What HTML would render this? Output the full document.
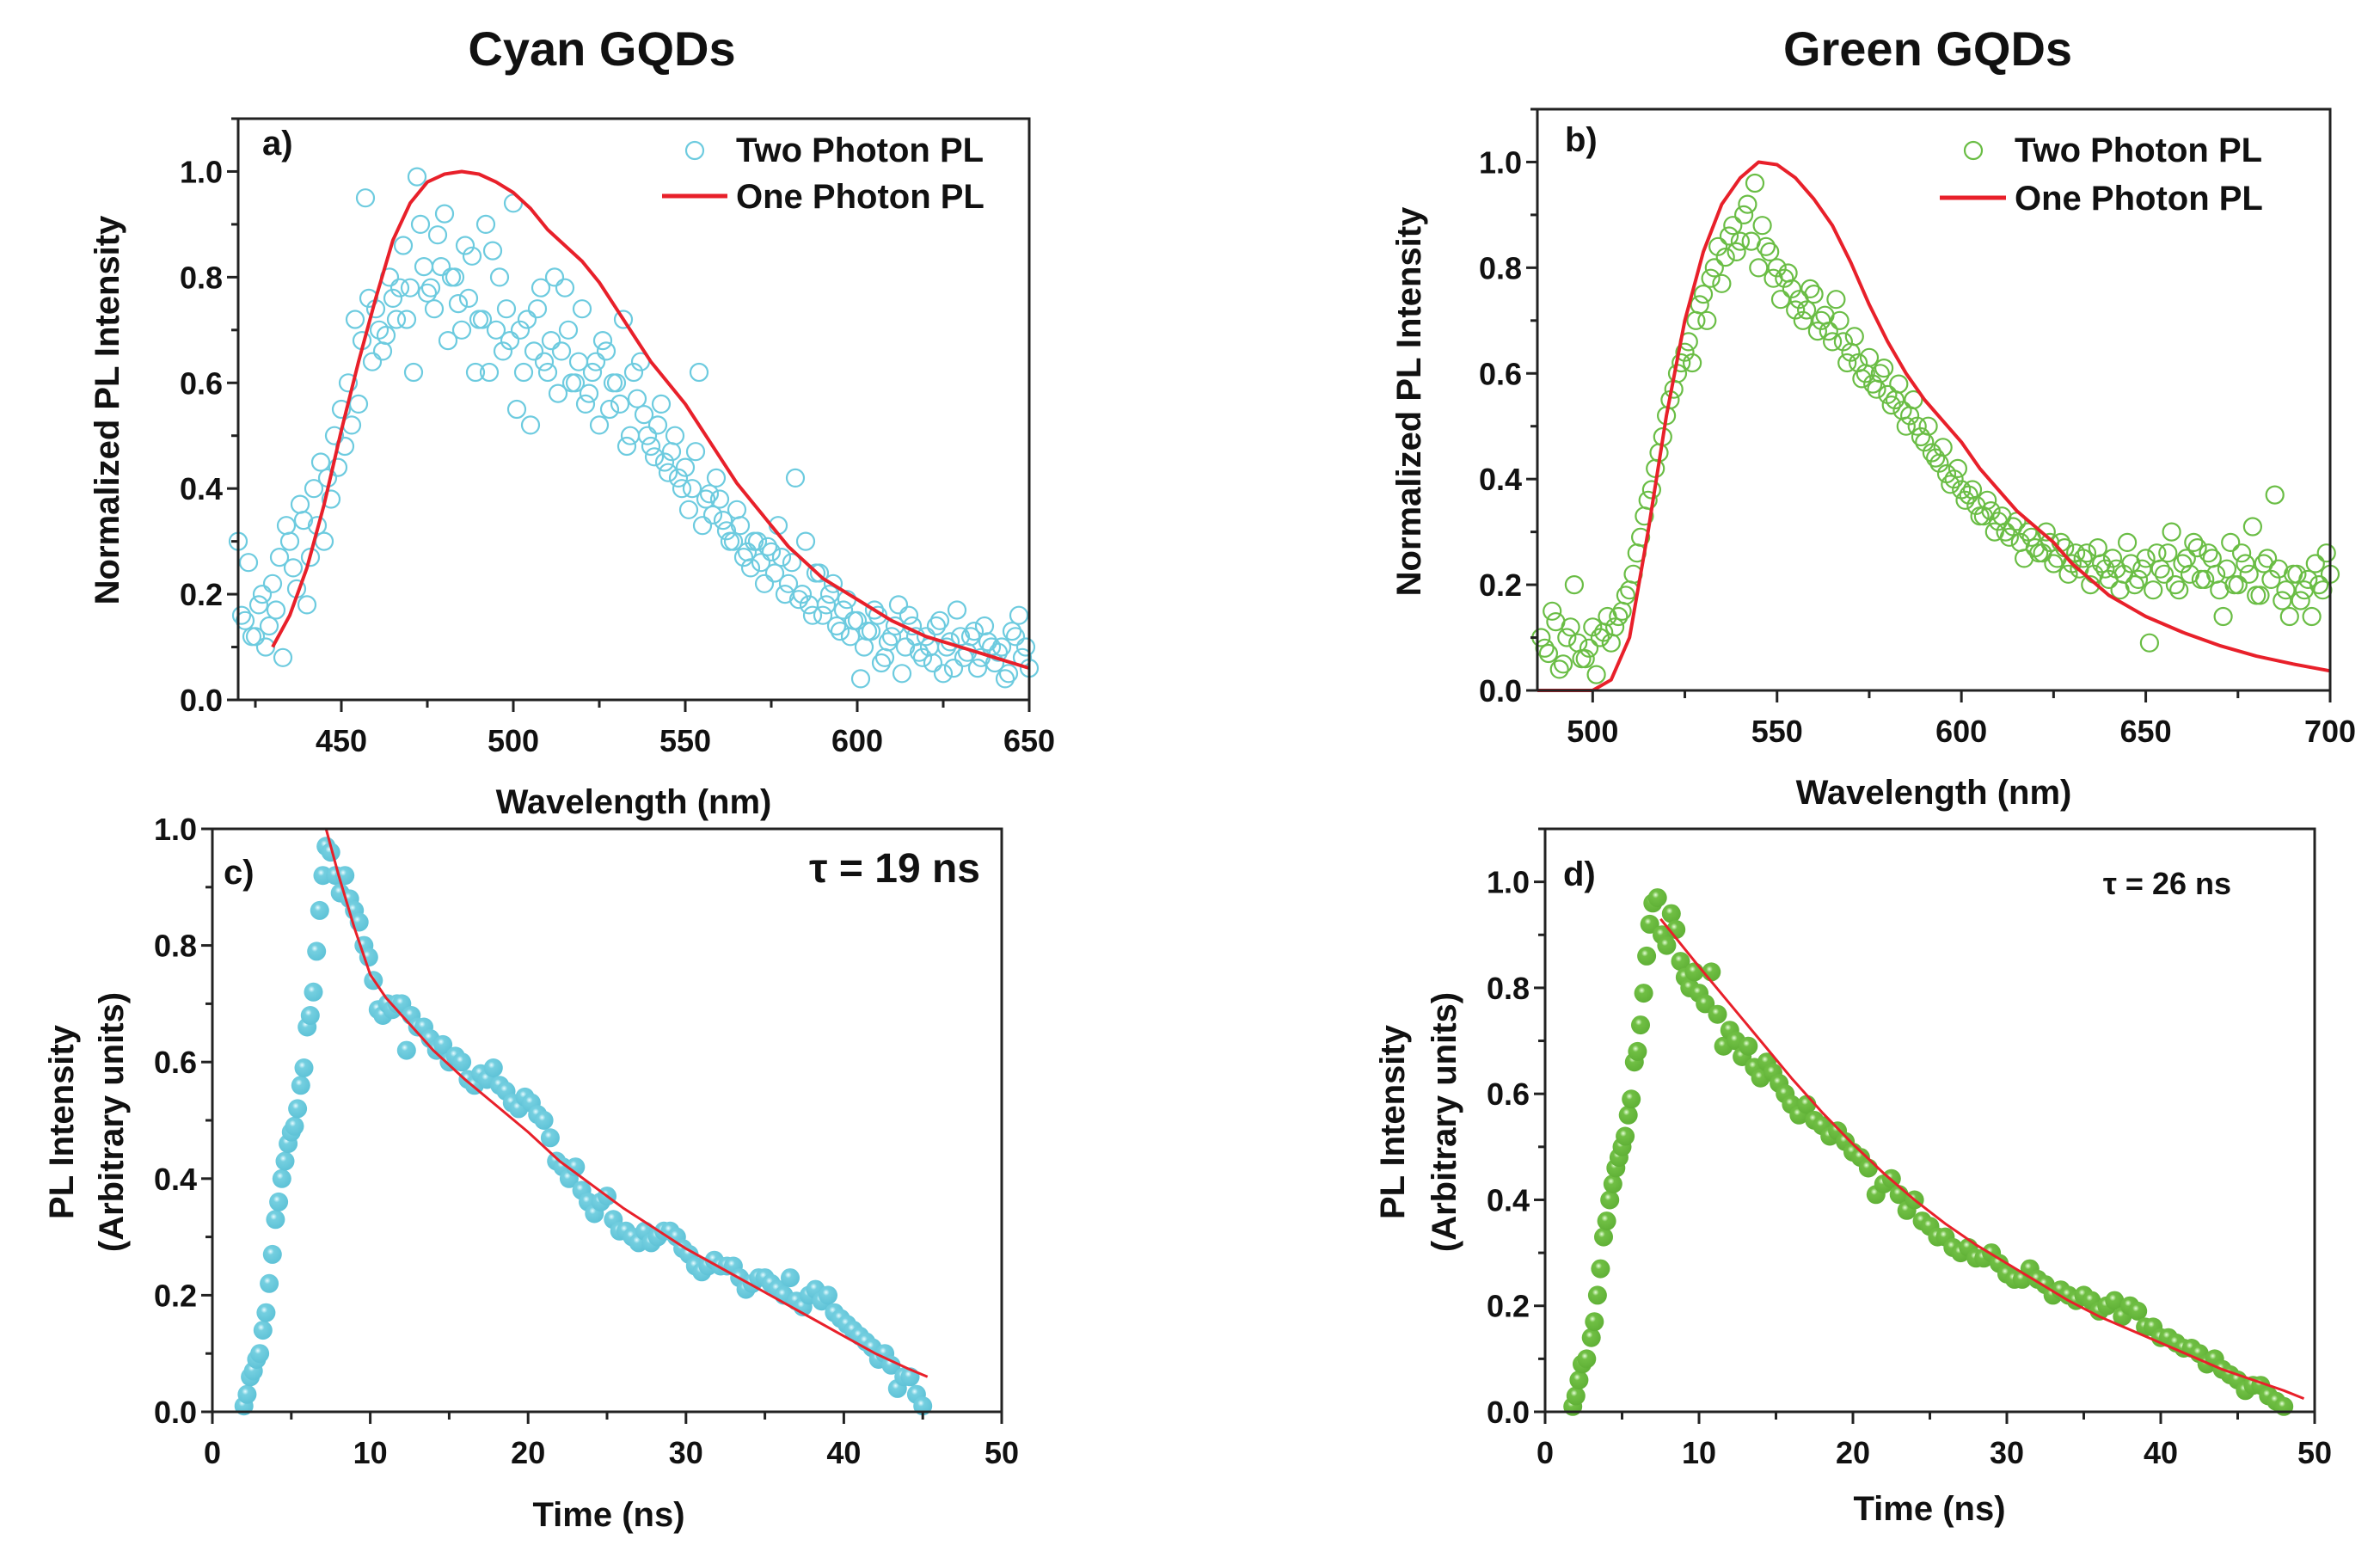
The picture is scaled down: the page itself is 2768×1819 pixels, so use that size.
<!DOCTYPE html>
<html><head><meta charset="utf-8">
<style>
html,body{margin:0;padding:0;background:#fff;}
svg{display:block;}
text{font-family:"Liberation Sans Narrow","Liberation Sans",sans-serif;font-weight:bold;fill:#111;}
.title{font-family:"Liberation Sans",sans-serif;font-size:56px;}
.tick{font-size:36px;}
.axt{font-size:40px;}
.leg{font-size:40px;}
</style></head>
<body>
<svg id="fig" width="2768" height="1819" viewBox="0 0 2768 1819" xmlns="http://www.w3.org/2000/svg">
<text class="title" x="700" y="76" text-anchor="middle">Cyan GQDs</text>
<text class="title" x="2242" y="76" text-anchor="middle">Green GQDs</text>
</svg>
<script>
// ---------- panel a data (cyan spectra) ----------
const aCurveX = [430,435,440,445,450,455,460,465,470,475,480,485,490,495,500,505,510,515,520,525,530,535,540,545,550,555,560,565,570,575,580,585,590,595,600,610,620,630,640,650];
const aCurveY = [0.10,0.16,0.25,0.37,0.51,0.64,0.76,0.87,0.94,0.98,0.995,1.0,0.995,0.98,0.96,0.93,0.89,0.86,0.83,0.79,0.74,0.69,0.64,0.60,0.56,0.51,0.46,0.41,0.37,0.33,0.29,0.26,0.23,0.21,0.19,0.15,0.12,0.10,0.08,0.06];
// band 1: wavelengths 420..650 every 2 nm
const aBand1Start = 420;
const aBand1Y = [
0.30,0.15,0.12,0.18,0.10,0.22,0.27,0.33,0.25,0.37,
0.18,0.40,0.45,0.42,0.50,0.55,0.60,0.72,0.68,0.76,
0.74,0.66,0.80,0.72,0.86,0.78,0.99,0.82,0.78,0.88,
0.92,0.80,0.75,0.86,0.84,0.72,0.90,0.85,0.80,0.74,
0.94,0.70,0.72,0.66,0.78,0.62,0.80,0.66,0.70,0.60,
0.74,0.58,0.64,0.68,0.55,0.60,0.72,0.50,0.57,0.54,
0.48,0.52,0.45,0.47,0.42,0.44,0.40,0.62,0.38,0.35,
0.38,0.32,0.30,0.33,0.28,0.30,0.26,0.29,0.24,0.27,
0.22,0.42,0.20,0.18,0.24,0.16,0.20,0.14,0.17,0.12,
0.15,0.10,0.13,0.16,0.08,0.12,0.18,0.10,0.14,0.09,
0.12,0.07,0.15,0.10,0.06,0.12,0.09,0.13,0.08,0.11,
0.07,0.10,0.05,0.12,0.08,0.06];
// band 2: wavelengths 421..649 every 2 nm
const aBand2Start = 421;
const aBand2Y = [
0.16,0.26,0.12,0.20,0.14,0.17,0.08,0.30,0.21,0.34,
0.27,0.33,0.30,0.38,0.44,0.48,0.52,0.56,0.95,0.64,
0.70,0.69,0.76,0.78,0.72,0.62,0.90,0.77,0.74,0.82,
0.68,0.80,0.70,0.76,0.62,0.72,0.62,0.70,0.66,0.68,
0.55,0.62,0.52,0.74,0.64,0.68,0.58,0.78,0.60,0.64,
0.56,0.62,0.52,0.66,0.60,0.56,0.48,0.62,0.64,0.50,
0.46,0.56,0.43,0.50,0.40,0.36,0.47,0.33,0.39,0.42,
0.34,0.30,0.36,0.27,0.25,0.30,0.22,0.28,0.33,0.20,
0.26,0.19,0.30,0.16,0.24,0.18,0.22,0.13,0.19,0.15,
0.04,0.13,0.17,0.07,0.11,0.14,0.05,0.16,0.12,0.08,
0.10,0.14,0.05,0.11,0.17,0.08,0.12,0.06,0.14,0.10,
0.09,0.04,0.13,0.16,0.10];
// ---------- panel b data (green spectra) ----------
const bCurveX = [485,490,495,500,505,510,515,520,525,530,535,540,545,550,555,560,565,570,575,580,585,590,595,600,605,610,615,620,625,630,635,640,645,650,660,670,680,690,700];
const bCurveY = [0,0,0,0,0.02,0.10,0.30,0.52,0.70,0.83,0.92,0.97,1.0,0.995,0.97,0.93,0.88,0.81,0.73,0.66,0.60,0.55,0.51,0.47,0.42,0.38,0.34,0.31,0.28,0.24,0.21,0.18,0.16,0.14,0.11,0.085,0.065,0.05,0.037];
// band 1: wavelengths 486..700 every 2 nm
const bBand1Start = 486;
const bBand1Y = [
0.10,0.07,0.13,0.05,0.12,0.09,0.06,0.12,0.10,0.14,
0.12,0.15,0.19,0.26,0.33,0.38,0.45,0.52,0.57,0.62,
0.66,0.70,0.75,0.78,0.84,0.82,0.88,0.85,0.92,0.96,
0.88,0.83,0.80,0.78,0.76,0.74,0.72,0.75,0.70,0.68,
0.74,0.66,0.64,0.62,0.60,0.58,0.60,0.56,0.55,0.53,
0.52,0.50,0.47,0.45,0.43,0.41,0.40,0.38,0.37,0.35,
0.33,0.34,0.32,0.30,0.31,0.28,0.30,0.27,0.26,0.28,
0.25,0.27,0.24,0.23,0.26,0.22,0.24,0.21,0.23,0.22,
0.24,0.21,0.25,0.19,0.23,0.26,0.20,0.24,0.22,0.27,
0.21,0.25,0.19,0.23,0.20,0.26,0.22,0.18,0.24,0.21,
0.23,0.19,0.22,0.17,0.21,0.24,0.19,0.22];
// band 2: wavelengths 487..699 every 2 nm
const bBand2Start = 487;
const bBand2Y = [
0.08,0.15,0.04,0.10,0.20,0.06,0.08,0.03,0.11,0.09,
0.14,0.18,0.22,0.29,0.36,0.42,0.48,0.55,0.60,0.64,
0.62,0.73,0.70,0.80,0.77,0.86,0.83,0.90,0.85,0.80,
0.84,0.78,0.74,0.79,0.72,0.70,0.76,0.68,0.71,0.66,
0.70,0.62,0.67,0.59,0.63,0.57,0.61,0.54,0.58,0.50,
0.55,0.48,0.50,0.44,0.46,0.39,0.42,0.36,0.38,0.33,
0.36,0.30,0.33,0.29,0.32,0.25,0.29,0.26,0.30,0.24,
0.28,0.22,0.26,0.25,0.20,0.27,0.23,0.25,0.19,0.28,
0.20,0.23,0.09,0.26,0.22,0.30,0.19,0.25,0.28,0.21,
0.26,0.22,0.14,0.28,0.20,0.24,0.31,0.18,0.25,0.37,
0.17,0.14,0.22,0.19,0.14,0.20,0.26];
// ---------- panel c data (cyan decay) ----------
const cCurveX = [7.2,8,9,10,11,12,13,14,16,18,20,22,24,26,28,30,32,34,36,38,40,42,44,45.3];
const cCurveY = [1.0,0.92,0.83,0.75,0.71,0.68,0.65,0.62,0.57,0.525,0.48,0.43,0.39,0.35,0.315,0.28,0.25,0.22,0.19,0.16,0.13,0.10,0.075,0.06];
const cPtsX = [2,2.2,2.4,2.6,2.8,3.0,3.2,3.4,3.6,3.8,4.0,4.2,4.4,4.6,4.8,5.0,5.2,5.4,5.6,5.8,6.0,6.2,6.4,6.6,6.8,7.0,7.2,7.5,7.8,8.1,8.4,8.7,9.0,9.3,9.6,9.9,10.2,10.5,10.8,11.1,11.4,11.7,12.0,12.3,12.6,13.0,13.4,13.8,14.2,14.6,15.0,15.4,15.8,16.2,16.6,17.0,17.4,17.8,18.2,18.6,19.0,19.4,19.8,20.2,20.6,21.0,21.4,21.8,22.2,22.6,23.0,23.4,23.8,24.2,24.6,25.0,25.4,25.8,26.2,26.6,27.0,27.4,27.8,28.2,28.6,29.0,29.4,29.8,30.2,30.6,31.0,31.4,31.8,32.2,32.6,33.0,33.4,33.8,34.2,34.6,35.0,35.4,35.8,36.2,36.6,37.0,37.4,37.8,38.2,38.6,39.0,39.4,39.8,40.2,40.6,41.0,41.4,41.8,42.2,42.6,43.0,43.4,43.8,44.2,44.6,45.0];
const cPtsY = [0.01,0.03,0.06,0.07,0.09,0.10,0.14,0.17,0.22,0.27,0.33,0.36,0.40,0.43,0.46,0.48,0.49,0.52,0.56,0.59,0.66,0.68,0.72,0.79,0.86,0.92,0.97,0.96,0.92,0.89,0.92,0.88,0.86,0.84,0.80,0.78,0.74,0.69,0.68,0.70,0.69,0.70,0.70,0.62,0.68,0.66,0.66,0.64,0.62,0.63,0.60,0.61,0.60,0.57,0.56,0.58,0.57,0.59,0.56,0.55,0.53,0.52,0.54,0.53,0.51,0.50,0.47,0.43,0.42,0.40,0.42,0.38,0.36,0.34,0.36,0.37,0.33,0.31,0.31,0.30,0.29,0.31,0.29,0.30,0.31,0.31,0.30,0.28,0.27,0.25,0.24,0.25,0.26,0.25,0.25,0.25,0.23,0.21,0.22,0.23,0.23,0.22,0.21,0.20,0.23,0.19,0.18,0.20,0.21,0.19,0.20,0.17,0.16,0.15,0.14,0.13,0.12,0.11,0.09,0.10,0.08,0.04,0.06,0.06,0.03,0.01];
// ---------- panel d data (green decay) ----------
const dCurveX = [7.5,10,12,14,16,18,20,22,24,26,28,30,32,34,36,38,40,42,44,46,48,49.3];
const dCurveY = [0.93,0.84,0.77,0.70,0.63,0.565,0.505,0.45,0.40,0.355,0.315,0.28,0.245,0.21,0.18,0.155,0.13,0.105,0.08,0.06,0.04,0.025];
const dPtsX = [1.8,2.0,2.2,2.4,2.7,3.0,3.2,3.4,3.6,3.8,4.0,4.2,4.4,4.6,4.8,5.0,5.2,5.4,5.6,5.8,6.0,6.2,6.4,6.6,6.8,7.0,7.3,7.6,7.9,8.2,8.5,8.8,9.1,9.4,9.7,10.0,10.4,10.8,11.2,11.6,12.0,12.4,12.8,13.2,13.6,14.0,14.4,14.8,15.2,15.6,16.0,16.5,17.0,17.5,18.0,18.5,19.0,19.5,20.0,20.5,21.0,21.5,22.0,22.5,23.0,23.5,24.0,24.5,25.0,25.5,26.0,26.5,27.0,27.5,28.0,28.5,29.0,29.5,30.0,30.5,31.0,31.5,32.0,32.5,33.0,33.5,34.0,34.5,35.0,35.5,36.0,36.5,37.0,37.5,38.0,38.5,39.0,39.5,40.0,40.5,41.0,41.5,42.0,42.5,43.0,43.5,44.0,44.5,45.0,45.5,46.0,46.5,47.0,47.5,48.0];
const dPtsY = [0.01,0.03,0.06,0.09,0.10,0.14,0.17,0.22,0.27,0.33,0.36,0.40,0.43,0.46,0.48,0.50,0.52,0.56,0.59,0.66,0.68,0.73,0.79,0.86,0.92,0.96,0.97,0.90,0.88,0.94,0.91,0.85,0.82,0.80,0.83,0.79,0.77,0.83,0.75,0.69,0.72,0.70,0.67,0.69,0.65,0.63,0.66,0.64,0.62,0.60,0.58,0.56,0.58,0.55,0.54,0.52,0.53,0.51,0.49,0.48,0.46,0.41,0.43,0.44,0.41,0.38,0.40,0.36,0.35,0.33,0.33,0.31,0.30,0.31,0.29,0.29,0.30,0.28,0.26,0.25,0.25,0.27,0.25,0.24,0.22,0.23,0.22,0.21,0.22,0.21,0.19,0.20,0.21,0.18,0.20,0.19,0.16,0.16,0.14,0.14,0.13,0.12,0.12,0.11,0.09,0.10,0.08,0.07,0.06,0.04,0.05,0.05,0.03,0.02,0.01];

function gridX(start,n){const a=[];for(let i=0;i<n;i++)a.push(start+2*i);return a;}
const aPtsX = gridX(aBand1Start,aBand1Y.length).concat(gridX(aBand2Start,aBand2Y.length));
const aPtsY = aBand1Y.concat(aBand2Y);
const bPtsX = gridX(bBand1Start,bBand1Y.length).concat(gridX(bBand2Start,bBand2Y.length));
const bPtsY = bBand1Y.concat(bBand2Y);

const NS='http://www.w3.org/2000/svg';
const svg=document.getElementById('fig');
const defs=document.createElementNS(NS,'defs');
defs.innerHTML='<radialGradient id="gc" cx="0.4" cy="0.35" r="0.7"><stop offset="0" stop-color="#e8fbff"/><stop offset="0.25" stop-color="#74cfe0"/><stop offset="1" stop-color="#5cc1d6"/></radialGradient><radialGradient id="gg" cx="0.4" cy="0.35" r="0.7"><stop offset="0" stop-color="#e6ffd8"/><stop offset="0.25" stop-color="#70bf44"/><stop offset="1" stop-color="#5eaf35"/></radialGradient>';
svg.appendChild(defs);

function mk(tag,attrs,parent){const e=document.createElementNS(NS,tag);for(const k in attrs)e.setAttribute(k,attrs[k]);(parent||svg).appendChild(e);return e;}

function panel(p){
  const g=mk('g',{});
  
  
  const sx=v=>p.L+(v-p.x0)/(p.x1-p.x0)*(p.R-p.L);
  const sy=v=>p.B-(v-p.y0)/(p.y1-p.y0)*(p.B-p.T);
  const sg=mk('g',{},g);
  
  
  const n=Math.min(p.px.length,p.py.length);
  for(let i=0;i<n;i++){
    if(p.px[i]<p.x0||p.px[i]>p.x1)continue;
    const c=mk('circle',{cx:sx(p.px[i]).toFixed(1),cy:sy(p.py[i]).toFixed(1),r:p.r},sg);
    if(p.filled){c.setAttribute('fill',p.grad);}else{c.setAttribute('fill','none');c.setAttribute('stroke',p.color);c.setAttribute('stroke-width','2.2');}
    
    
  }
  let d='';for(let i=0;i<p.cx.length;i++)d+=(i?'L':'M')+sx(p.cx[i]).toFixed(1)+' '+sy(p.cy[i]).toFixed(1);
  const ln=mk('path',{d:d,fill:'none',stroke:'#e8202a','stroke-width':p.lw,'stroke-linejoin':'round'},g);
  
  
  const fr=mk('rect',{x:p.L,y:p.T,width:p.R-p.L,height:p.B-p.T,fill:'none',stroke:'#222','stroke-width':3},g);
  
  
  for(let v=p.x0m;v<=p.x1+1e-9;v+=p.xminor){
    const major=Math.abs((v-p.xmaj0)/p.xmajor-Math.round((v-p.xmaj0)/p.xmajor))<1e-6;
    mk('line',{x1:sx(v),x2:sx(v),y1:p.B,y2:p.B+(major?14:9),stroke:'#222','stroke-width':3},g);
    if(major){const t=mk('text',{x:sx(v),y:p.B+60,'text-anchor':'middle',class:'tick'},g);t.textContent=v;
      
      }
  }
  for(let v=0;v<=p.y1+1e-9;v+=0.1){
    const major=Math.round(v*10)%2===0;
    mk('line',{x1:p.L,x2:p.L-(major?13:8),y1:sy(v),y2:sy(v),stroke:'#222','stroke-width':3},g);
    if(major){const t=mk('text',{x:p.L-18,y:sy(v)+13,'text-anchor':'end',class:'tick'},g);t.textContent=v.toFixed(1);
      
      }
  }
  return {g,sx,sy};
}

function txt(s,x,y,cls,name,extra){const t=mk('text',Object.assign({x:x,y:y,class:cls},extra||{}));t.textContent=s;
  
  return t;}

panel({name:'panel-a',L:277,R:1197,T:138,B:814,x0:420,x1:650,y0:0,y1:1.1,x0m:425,xminor:25,xmaj0:450,xmajor:50,px:aPtsX,py:aPtsY,cx:aCurveX,cy:aCurveY,r:10,filled:false,color:'#6dcbdf',lw:4});
panel({name:'panel-b',L:1788,R:2710,T:127,B:803,x0:485,x1:700,y0:0,y1:1.1,x0m:500,xminor:25,xmaj0:500,xmajor:50,px:bPtsX,py:bPtsY,cx:bCurveX,cy:bCurveY,r:10,filled:false,color:'#6abd45',lw:4});
panel({name:'panel-c',L:247,R:1165,T:964,B:1642,x0:0,x1:50,y0:0,y1:1.0,x0m:0,xminor:5,xmaj0:0,xmajor:10,px:cPtsX,py:cPtsY,cx:cCurveX,cy:cCurveY,r:11,filled:true,grad:'url(#gc)',lw:3});
panel({name:'panel-d',L:1797,R:2692,T:964,B:1642,x0:0,x1:50,y0:0,y1:1.1,x0m:0,xminor:5,xmaj0:0,xmajor:10,px:dPtsX,py:dPtsY,cx:dCurveX,cy:dCurveY,r:11,filled:true,grad:'url(#gg)',lw:3});

txt('a)',305,180,'leg','panel-a-label');
txt('b)',1820,176,'leg','panel-b-label');
txt('c)',260,1028,'leg','panel-c-label');
txt('d)',1818,1030,'leg','panel-d-label');
let c1=mk('circle',{cx:808,cy:175,r:10,fill:'none',stroke:'#6dcbdf','stroke-width':2.2});

txt('Two Photon PL',856,188,'leg','legend-two-photon');
let l1=mk('line',{x1:770,x2:846,y1:228,y2:228,stroke:'#e8202a','stroke-width':5});

txt('One Photon PL',856,242,'leg','legend-one-photon');
let c2=mk('circle',{cx:2295,cy:175,r:10,fill:'none',stroke:'#6abd45','stroke-width':2.2});

txt('Two Photon PL',2343,188,'leg','legend-two-photon');
let l2=mk('line',{x1:2256,x2:2333,y1:230,y2:230,stroke:'#e8202a','stroke-width':5});

txt('One Photon PL',2343,244,'leg','legend-one-photon');
txt('τ = 19 ns',1140,1026,'leg','tau-label-c',{'text-anchor':'end','style':'font-size:48px'});
txt('τ = 26 ns',2595,1040,'leg','tau-label-d',{'text-anchor':'end','style':'font-size:36px'});
txt('Wavelength (nm)',737,946,'axt','x-axis-title-a',{'text-anchor':'middle'});
txt('Wavelength (nm)',2249,935,'axt','x-axis-title-b',{'text-anchor':'middle'});
txt('Time (ns)',708,1775,'axt','x-axis-title-c',{'text-anchor':'middle'});
txt('Time (ns)',2244,1768,'axt','x-axis-title-d',{'text-anchor':'middle'});
txt('Normalized PL Intensity',138,477,'axt','y-axis-title-a',{'text-anchor':'middle','transform':'rotate(-90 138 477)'});
txt('Normalized PL Intensity',1652,467,'axt','y-axis-title-b',{'text-anchor':'middle','transform':'rotate(-90 1652 467)'});
txt('PL Intensity',85,1305,'axt','y-axis-title-c-line1',{'text-anchor':'middle','transform':'rotate(-90 85 1305)'});
txt('(Arbitrary units)',143,1305,'axt','y-axis-title-c-line2',{'text-anchor':'middle','transform':'rotate(-90 143 1305)'});
txt('PL Intensity',1633,1305,'axt','y-axis-title-d-line1',{'text-anchor':'middle','transform':'rotate(-90 1633 1305)'});
txt('(Arbitrary units)',1693,1305,'axt','y-axis-title-d-line2',{'text-anchor':'middle','transform':'rotate(-90 1693 1305)'});
</script>
</body></html>
